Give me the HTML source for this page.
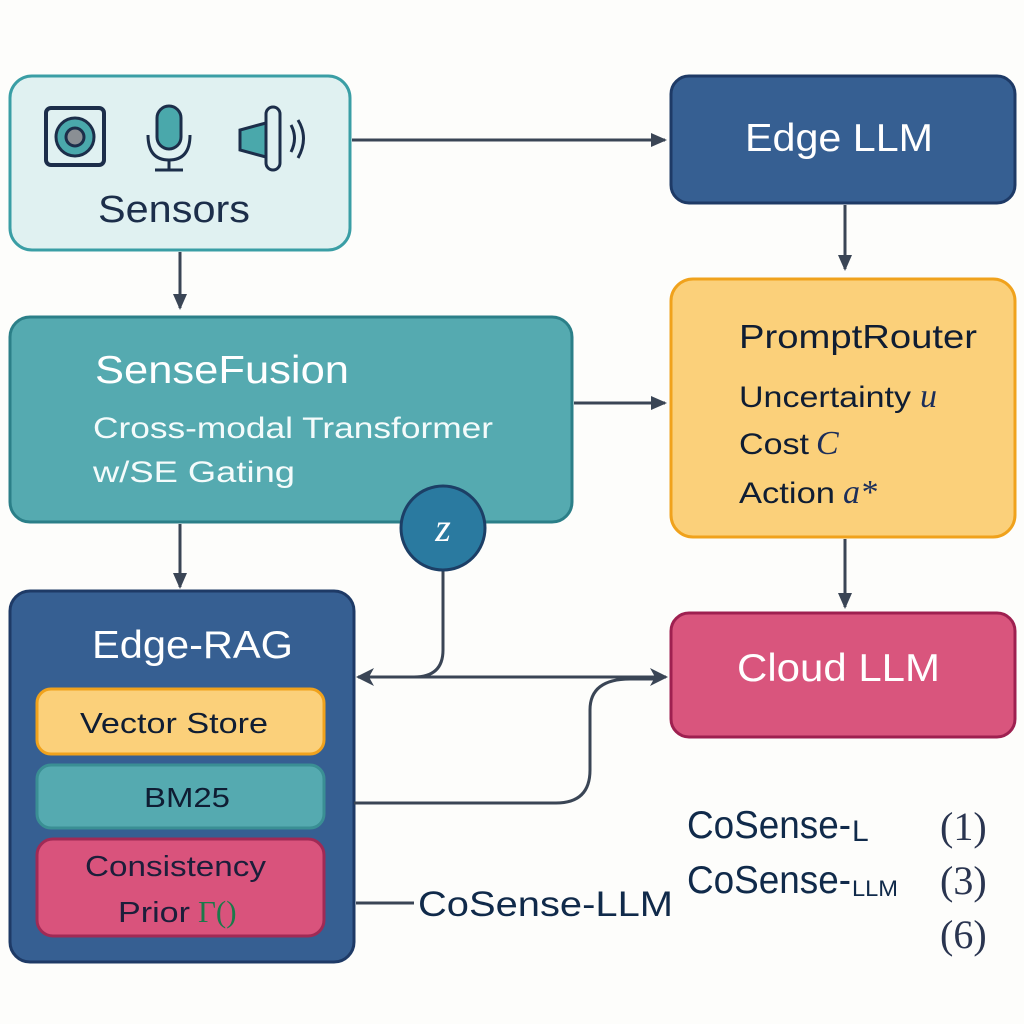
<!DOCTYPE html>
<html><head><meta charset="utf-8"><style>
html,body{margin:0;padding:0;background:#fdfdfb;}
svg{display:block}
text{font-family:"Liberation Sans","DejaVu Sans",sans-serif;}
text.m,tspan.m{font-family:"Liberation Serif","DejaVu Serif",serif;font-style:italic;}
text.s{font-family:"Liberation Serif","DejaVu Serif",serif;}
</style></head><body>
<svg width="1024" height="1024" viewBox="0 0 1024 1024" xmlns="http://www.w3.org/2000/svg">
<defs>
<marker id="ah" markerWidth="16" markerHeight="16" refX="14" refY="8" orient="auto" markerUnits="userSpaceOnUse" viewBox="0 0 16 16">
<path d="M0,1 L16,8 L0,15 z" fill="#3a4555"/>
</marker>
<marker id="ah2" markerWidth="18" markerHeight="18" refX="16" refY="9" orient="auto-start-reverse" markerUnits="userSpaceOnUse" viewBox="0 0 18 18">
<path d="M0,0 L18,9 L0,18 L5,9 z" fill="#3a4555"/>
</marker>
</defs>
<rect width="1024" height="1024" fill="#fdfdfb"/>

<!-- Sensors -->
<rect x="10" y="76" width="340" height="174" rx="22" fill="#e0f1f1" stroke="#3a9ea5" stroke-width="3"/>
<rect x="46" y="108" width="58" height="57" rx="5" fill="none" stroke="#1c2e4a" stroke-width="4"/>
<circle cx="75" cy="137" r="19" fill="#4aa8ab" stroke="#1c2e4a" stroke-width="3"/>
<circle cx="75" cy="137" r="9" fill="#8a8f94" stroke="#1c2e4a" stroke-width="3"/>
<rect x="157" y="106" width="24" height="43" rx="12" fill="#4aa8ab" stroke="#1c2e4a" stroke-width="3"/>
<path d="M148,135 Q148,160 169,160 Q190,160 190,135" fill="none" stroke="#1c2e4a" stroke-width="3"/>
<line x1="169" y1="160" x2="169" y2="170" stroke="#1c2e4a" stroke-width="3"/>
<line x1="155" y1="170" x2="183" y2="170" stroke="#1c2e4a" stroke-width="3"/>
<path d="M266,123 L240,130 L240,150 L266,157 z" fill="#4aa8ab" stroke="#1c2e4a" stroke-width="3"/>
<rect x="266" y="107" width="14" height="63" rx="7" fill="#e0f1f1" stroke="#1c2e4a" stroke-width="3"/>
<path d="M291,125 Q298,138 291,152" fill="none" stroke="#1c2e4a" stroke-width="3"/>
<path d="M298,120 Q309,138 298,158" fill="none" stroke="#1c2e4a" stroke-width="3"/>
<text x="98" y="222" font-size="38" fill="#1c2e4a" textLength="152" lengthAdjust="spacingAndGlyphs">Sensors</text>

<!-- Edge LLM -->
<rect x="671" y="76" width="344" height="127" rx="18" fill="#365f92" stroke="#1e3a66" stroke-width="3"/>
<text x="745" y="151" font-size="39" fill="#fff" textLength="188" lengthAdjust="spacingAndGlyphs">Edge LLM</text>

<!-- PromptRouter -->
<rect x="671" y="279" width="344" height="258" rx="22" fill="#fbd07a" stroke="#f0a21c" stroke-width="3"/>
<text x="739" y="348" font-size="33" fill="#0f1d33" textLength="238" lengthAdjust="spacingAndGlyphs">PromptRouter</text>
<text x="739" y="407" font-size="30" fill="#0f1d33" textLength="172" lengthAdjust="spacingAndGlyphs">Uncertainty</text>
<text class="m" x="920" y="407" font-size="34" fill="#1c2e5a">u</text>
<text x="739" y="454" font-size="30" fill="#0f1d33" textLength="70" lengthAdjust="spacingAndGlyphs">Cost</text>
<text class="m" x="816" y="454" font-size="34" fill="#1c2e5a">C</text>
<text x="739" y="503" font-size="30" fill="#0f1d33" textLength="96" lengthAdjust="spacingAndGlyphs">Action</text>
<text class="m" x="843" y="503" font-size="34" fill="#1c2e5a">a*</text>

<!-- SenseFusion -->
<rect x="10" y="317" width="562" height="205" rx="20" fill="#55aab0" stroke="#2b7f88" stroke-width="3"/>
<text x="95" y="383" font-size="39" fill="#fff" textLength="254" lengthAdjust="spacingAndGlyphs">SenseFusion</text>
<text x="93" y="438" font-size="30" fill="#f4fbfb" textLength="400" lengthAdjust="spacingAndGlyphs">Cross-modal Transformer</text>
<text x="93" y="482" font-size="30" fill="#f4fbfb" textLength="202" lengthAdjust="spacingAndGlyphs">w/SE Gating</text>

<!-- Edge-RAG -->
<rect x="10" y="591" width="344" height="371" rx="20" fill="#365f92" stroke="#1e3a66" stroke-width="3"/>
<text x="92" y="658" font-size="39" fill="#fff" textLength="201" lengthAdjust="spacingAndGlyphs">Edge-RAG</text>
<rect x="37" y="689" width="287" height="65" rx="14" fill="#fbd07a" stroke="#f0a21c" stroke-width="3"/>
<text x="80" y="733" font-size="29" fill="#0f1d33" textLength="188" lengthAdjust="spacingAndGlyphs">Vector Store</text>
<rect x="37" y="765" width="287" height="63" rx="14" fill="#55aab0" stroke="#3a8f94" stroke-width="3"/>
<text x="144" y="807" font-size="28" fill="#0f1d33" textLength="86" lengthAdjust="spacingAndGlyphs">BM25</text>
<rect x="37" y="839" width="287" height="97" rx="16" fill="#d9537c" stroke="#a02a55" stroke-width="3"/>
<text x="85" y="876" font-size="29" fill="#1c1e3a" textLength="181" lengthAdjust="spacingAndGlyphs">Consistency</text>
<text x="118" y="922" font-size="29" fill="#1c1e3a" textLength="72" lengthAdjust="spacingAndGlyphs">Prior</text>
<text class="s" x="198" y="922" font-size="31" fill="#1a7a4a">Γ()</text>

<!-- Cloud LLM -->
<rect x="671" y="613" width="344" height="124" rx="18" fill="#d9557d" stroke="#9e2050" stroke-width="3"/>
<text x="737" y="681" font-size="39" fill="#fff" textLength="203" lengthAdjust="spacingAndGlyphs">Cloud LLM</text>

<!-- arrows -->
<g stroke="#3a4555" stroke-width="3" fill="none">
<line x1="352" y1="140" x2="665" y2="140" marker-end="url(#ah)"/>
<line x1="845" y1="205" x2="845" y2="269" marker-end="url(#ah)"/>
<line x1="574" y1="403" x2="665" y2="403" marker-end="url(#ah)"/>
<line x1="180" y1="252" x2="180" y2="308" marker-end="url(#ah)"/>
<line x1="180" y1="524" x2="180" y2="587" marker-end="url(#ah)"/>
<line x1="845" y1="539" x2="845" y2="607" marker-end="url(#ah)"/>
<line x1="358" y1="677" x2="666" y2="677" marker-start="url(#ah2)" marker-end="url(#ah2)"/>
<path d="M443,568 L443,650 Q443,677 414,677"/>
<path d="M354,803 L556,803 Q590,803 590,770 L590,710 Q590,679 630,679 L660,679"/>
<line x1="356" y1="903" x2="414" y2="903"/>
</g>

<!-- z circle -->
<circle cx="443" cy="528" r="42" fill="#2a7aa0" stroke="#1c3f66" stroke-width="3"/>
<text class="m" x="443" y="541" font-size="40" fill="#fff" text-anchor="middle">z</text>

<!-- labels -->
<text x="418" y="916" font-size="35" fill="#102a4a" textLength="255" lengthAdjust="spacingAndGlyphs">CoSense-LLM</text>
<text x="687" y="838" font-size="39" fill="#102a4a" textLength="164" lengthAdjust="spacingAndGlyphs">CoSense-</text>
<text x="852" y="841" font-size="30" fill="#102a4a">L</text>
<text x="687" y="893" font-size="39" fill="#102a4a" textLength="164" lengthAdjust="spacingAndGlyphs">CoSense-</text>
<text x="852" y="896" font-size="22" fill="#102a4a" textLength="46" lengthAdjust="spacingAndGlyphs">LLM</text>
<text class="s" x="940" y="840" font-size="40" fill="#2a3550">(1)</text>
<text class="s" x="940" y="894" font-size="40" fill="#2a3550">(3)</text>
<text class="s" x="940" y="948" font-size="40" fill="#2a3550">(6)</text>
</svg>
</body></html>
